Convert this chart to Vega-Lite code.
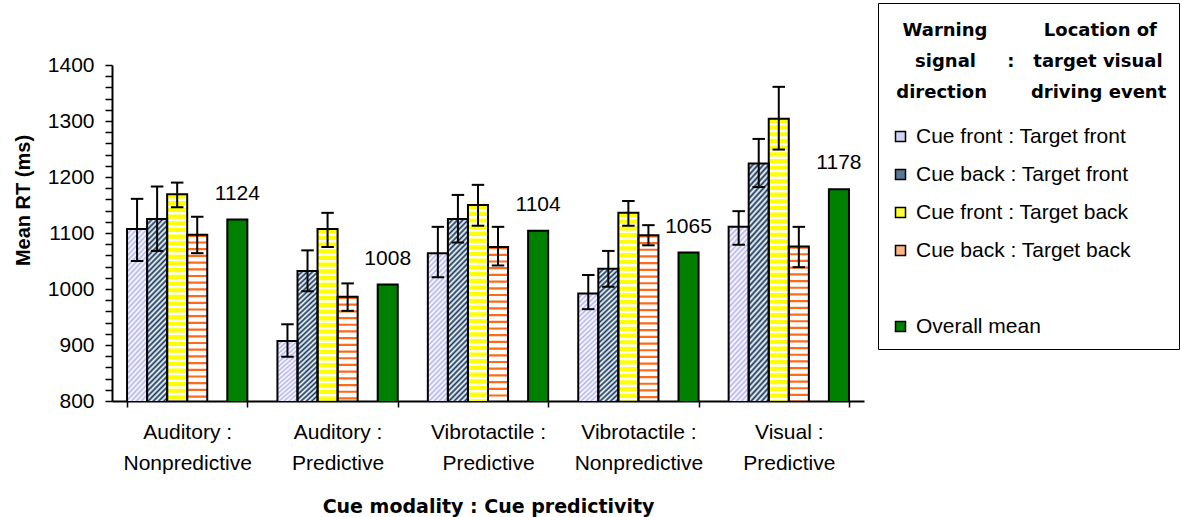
{
"$schema": "https://vega.github.io/schema/vega-lite/v6.json",
"width": 752,
"height": 336,
"autosize": "none",
"padding": {"left": 112, "top": 65, "right": 316, "bottom": 116},
"background": "white",
"config": {"view": {"stroke": null}, "font": "Liberation Sans", "axis": {"labelOverlap": false}, "axisY": {"labelOverlap": false}},
"data": {"values": [
{"modality": "Auditory : Nonpredictive", "condition": "Cue front : Target front", "rt": 1107, "lo": 1050, "hi": 1161},
{"modality": "Auditory : Nonpredictive", "condition": "Cue back : Target front", "rt": 1125, "lo": 1068, "hi": 1183},
{"modality": "Auditory : Nonpredictive", "condition": "Cue front : Target back", "rt": 1169, "lo": 1146, "hi": 1190},
{"modality": "Auditory : Nonpredictive", "condition": "Cue back : Target back", "rt": 1097, "lo": 1064, "hi": 1129},
{"modality": "Auditory : Nonpredictive", "condition": "Overall mean", "rt": 1124},
{"modality": "Auditory : Predictive", "condition": "Cue front : Target front", "rt": 907, "lo": 879, "hi": 937},
{"modality": "Auditory : Predictive", "condition": "Cue back : Target front", "rt": 1032, "lo": 996, "hi": 1069},
{"modality": "Auditory : Predictive", "condition": "Cue front : Target back", "rt": 1107, "lo": 1075, "hi": 1136},
{"modality": "Auditory : Predictive", "condition": "Cue back : Target back", "rt": 986, "lo": 961, "hi": 1010},
{"modality": "Auditory : Predictive", "condition": "Overall mean", "rt": 1008},
{"modality": "Vibrotactile : Predictive", "condition": "Cue front : Target front", "rt": 1064, "lo": 1021, "hi": 1111},
{"modality": "Vibrotactile : Predictive", "condition": "Cue back : Target front", "rt": 1125, "lo": 1083, "hi": 1168},
{"modality": "Vibrotactile : Predictive", "condition": "Cue front : Target back", "rt": 1150, "lo": 1113, "hi": 1186},
{"modality": "Vibrotactile : Predictive", "condition": "Cue back : Target back", "rt": 1075, "lo": 1042, "hi": 1111},
{"modality": "Vibrotactile : Predictive", "condition": "Overall mean", "rt": 1104},
{"modality": "Vibrotactile : Nonpredictive", "condition": "Cue front : Target front", "rt": 992, "lo": 964, "hi": 1025},
{"modality": "Vibrotactile : Nonpredictive", "condition": "Cue back : Target front", "rt": 1036, "lo": 1004, "hi": 1068},
{"modality": "Vibrotactile : Nonpredictive", "condition": "Cue front : Target back", "rt": 1136, "lo": 1113, "hi": 1157},
{"modality": "Vibrotactile : Nonpredictive", "condition": "Cue back : Target back", "rt": 1096, "lo": 1078, "hi": 1114},
{"modality": "Vibrotactile : Nonpredictive", "condition": "Overall mean", "rt": 1065},
{"modality": "Visual : Predictive", "condition": "Cue front : Target front", "rt": 1111, "lo": 1079, "hi": 1139},
{"modality": "Visual : Predictive", "condition": "Cue back : Target front", "rt": 1224, "lo": 1182, "hi": 1268},
{"modality": "Visual : Predictive", "condition": "Cue front : Target back", "rt": 1304, "lo": 1249, "hi": 1361},
{"modality": "Visual : Predictive", "condition": "Cue back : Target back", "rt": 1076, "lo": 1039, "hi": 1111},
{"modality": "Visual : Predictive", "condition": "Overall mean", "rt": 1178}
]},
"encoding": {
  "x": {"field": "modality", "type": "nominal", "sort": null,
    "scale": {"domain": ["Auditory : Nonpredictive", "Auditory : Predictive", "Vibrotactile : Predictive", "Vibrotactile : Nonpredictive", "Visual : Predictive"], "paddingInner": 0.2, "paddingOuter": 0.1},
    "axis": {"title": "Cue modality : Cue predictivity", "titleFont": "DejaVu Sans", "titleFontWeight": "bold", "titleFontSize": 19, "titleColor": "black", "titleBaseline": "alphabetic", "titleY": 111,
      "labelExpr": "datum.label ? [split(datum.label, ' : ')[0] + ' :', split(datum.label, ' : ')[1]] : ''",
      "labelFont": "Liberation Sans", "labelFontSize": 21, "labelLineHeight": 31, "labelColor": "black", "labelPadding": 14, "labelAngle": 0,
      "tickBand": "extent", "tickSize": 6, "tickColor": "black", "tickWidth": 1.5, "domainColor": "black", "domainWidth": 2, "grid": false}},
  "xOffset": {"field": "condition", "type": "nominal", "sort": null,
    "scale": {"domain": ["Cue front : Target front", "Cue back : Target front", "Cue front : Target back", "Cue back : Target back", " ", "Overall mean"], "paddingInner": 0, "paddingOuter": 0}}
},
"layer": [
{
  "transform": [{"filter": "datum.condition === 'Cue front : Target front'"}],
  "mark": {"type": "bar", "clip": true, "strokeWidth": 0, "fill": {"gradient": "linear", "x1": 0, "y1": 0, "x2": 0.0119, "y2": 0.345, "stops": [
{"offset":0,"color":"#b4b4ee"},{"offset":0.0125,"color":"#fff"},{"offset":0.025,"color":"#b4b4ee"},{"offset":0.0375,"color":"#fff"},{"offset":0.05,"color":"#b4b4ee"},{"offset":0.0625,"color":"#fff"},{"offset":0.075,"color":"#b4b4ee"},{"offset":0.0875,"color":"#fff"},
{"offset":0.1,"color":"#b4b4ee"},{"offset":0.1125,"color":"#fff"},{"offset":0.125,"color":"#b4b4ee"},{"offset":0.1375,"color":"#fff"},{"offset":0.15,"color":"#b4b4ee"},{"offset":0.1625,"color":"#fff"},{"offset":0.175,"color":"#b4b4ee"},{"offset":0.1875,"color":"#fff"},
{"offset":0.2,"color":"#b4b4ee"},{"offset":0.2125,"color":"#fff"},{"offset":0.225,"color":"#b4b4ee"},{"offset":0.2375,"color":"#fff"},{"offset":0.25,"color":"#b4b4ee"},{"offset":0.2625,"color":"#fff"},{"offset":0.275,"color":"#b4b4ee"},{"offset":0.2875,"color":"#fff"},
{"offset":0.3,"color":"#b4b4ee"},{"offset":0.3125,"color":"#fff"},{"offset":0.325,"color":"#b4b4ee"},{"offset":0.3375,"color":"#fff"},{"offset":0.35,"color":"#b4b4ee"},{"offset":0.3625,"color":"#fff"},{"offset":0.375,"color":"#b4b4ee"},{"offset":0.3875,"color":"#fff"},
{"offset":0.4,"color":"#b4b4ee"},{"offset":0.4125,"color":"#fff"},{"offset":0.425,"color":"#b4b4ee"},{"offset":0.4375,"color":"#fff"},{"offset":0.45,"color":"#b4b4ee"},{"offset":0.4625,"color":"#fff"},{"offset":0.475,"color":"#b4b4ee"},{"offset":0.4875,"color":"#fff"},
{"offset":0.5,"color":"#b4b4ee"},{"offset":0.5125,"color":"#fff"},{"offset":0.525,"color":"#b4b4ee"},{"offset":0.5375,"color":"#fff"},{"offset":0.55,"color":"#b4b4ee"},{"offset":0.5625,"color":"#fff"},{"offset":0.575,"color":"#b4b4ee"},{"offset":0.5875,"color":"#fff"},
{"offset":0.6,"color":"#b4b4ee"},{"offset":0.6125,"color":"#fff"},{"offset":0.625,"color":"#b4b4ee"},{"offset":0.6375,"color":"#fff"},{"offset":0.65,"color":"#b4b4ee"},{"offset":0.6625,"color":"#fff"},{"offset":0.675,"color":"#b4b4ee"},{"offset":0.6875,"color":"#fff"},
{"offset":0.7,"color":"#b4b4ee"},{"offset":0.7125,"color":"#fff"},{"offset":0.725,"color":"#b4b4ee"},{"offset":0.7375,"color":"#fff"},{"offset":0.75,"color":"#b4b4ee"},{"offset":0.7625,"color":"#fff"},{"offset":0.775,"color":"#b4b4ee"},{"offset":0.7875,"color":"#fff"},
{"offset":0.8,"color":"#b4b4ee"},{"offset":0.8125,"color":"#fff"},{"offset":0.825,"color":"#b4b4ee"},{"offset":0.8375,"color":"#fff"},{"offset":0.85,"color":"#b4b4ee"},{"offset":0.8625,"color":"#fff"},{"offset":0.875,"color":"#b4b4ee"},{"offset":0.8875,"color":"#fff"},
{"offset":0.9,"color":"#b4b4ee"},{"offset":0.9125,"color":"#fff"},{"offset":0.925,"color":"#b4b4ee"},{"offset":0.9375,"color":"#fff"},{"offset":0.95,"color":"#b4b4ee"},{"offset":0.9625,"color":"#fff"},{"offset":0.975,"color":"#b4b4ee"},{"offset":0.9875,"color":"#fff"},
{"offset":1,"color":"#b4b4ee"}]}},
  "encoding": {
    "y": {"field": "rt", "type": "quantitative", "scale": {"domain": [800, 1400], "nice": false, "zero": false}}
  }
},
{
  "transform": [{"filter": "datum.condition === 'Cue back : Target front'"}],
  "mark": {"type": "bar", "clip": true, "strokeWidth": 0, "fill": {"gradient": "linear", "x1": 0, "y1": 0, "x2": 0.0138, "y2": 0.427, "stops": [
{"offset":0,"color":"#12365e"},{"offset":0.01,"color":"#fff"},{"offset":0.02,"color":"#12365e"},{"offset":0.03,"color":"#fff"},{"offset":0.04,"color":"#12365e"},{"offset":0.05,"color":"#fff"},{"offset":0.06,"color":"#12365e"},{"offset":0.07,"color":"#fff"},{"offset":0.08,"color":"#12365e"},{"offset":0.09,"color":"#fff"},
{"offset":0.1,"color":"#12365e"},{"offset":0.11,"color":"#fff"},{"offset":0.12,"color":"#12365e"},{"offset":0.13,"color":"#fff"},{"offset":0.14,"color":"#12365e"},{"offset":0.15,"color":"#fff"},{"offset":0.16,"color":"#12365e"},{"offset":0.17,"color":"#fff"},{"offset":0.18,"color":"#12365e"},{"offset":0.19,"color":"#fff"},
{"offset":0.2,"color":"#12365e"},{"offset":0.21,"color":"#fff"},{"offset":0.22,"color":"#12365e"},{"offset":0.23,"color":"#fff"},{"offset":0.24,"color":"#12365e"},{"offset":0.25,"color":"#fff"},{"offset":0.26,"color":"#12365e"},{"offset":0.27,"color":"#fff"},{"offset":0.28,"color":"#12365e"},{"offset":0.29,"color":"#fff"},
{"offset":0.3,"color":"#12365e"},{"offset":0.31,"color":"#fff"},{"offset":0.32,"color":"#12365e"},{"offset":0.33,"color":"#fff"},{"offset":0.34,"color":"#12365e"},{"offset":0.35,"color":"#fff"},{"offset":0.36,"color":"#12365e"},{"offset":0.37,"color":"#fff"},{"offset":0.38,"color":"#12365e"},{"offset":0.39,"color":"#fff"},
{"offset":0.4,"color":"#12365e"},{"offset":0.41,"color":"#fff"},{"offset":0.42,"color":"#12365e"},{"offset":0.43,"color":"#fff"},{"offset":0.44,"color":"#12365e"},{"offset":0.45,"color":"#fff"},{"offset":0.46,"color":"#12365e"},{"offset":0.47,"color":"#fff"},{"offset":0.48,"color":"#12365e"},{"offset":0.49,"color":"#fff"},
{"offset":0.5,"color":"#12365e"},{"offset":0.51,"color":"#fff"},{"offset":0.52,"color":"#12365e"},{"offset":0.53,"color":"#fff"},{"offset":0.54,"color":"#12365e"},{"offset":0.55,"color":"#fff"},{"offset":0.56,"color":"#12365e"},{"offset":0.57,"color":"#fff"},{"offset":0.58,"color":"#12365e"},{"offset":0.59,"color":"#fff"},
{"offset":0.6,"color":"#12365e"},{"offset":0.61,"color":"#fff"},{"offset":0.62,"color":"#12365e"},{"offset":0.63,"color":"#fff"},{"offset":0.64,"color":"#12365e"},{"offset":0.65,"color":"#fff"},{"offset":0.66,"color":"#12365e"},{"offset":0.67,"color":"#fff"},{"offset":0.68,"color":"#12365e"},{"offset":0.69,"color":"#fff"},
{"offset":0.7,"color":"#12365e"},{"offset":0.71,"color":"#fff"},{"offset":0.72,"color":"#12365e"},{"offset":0.73,"color":"#fff"},{"offset":0.74,"color":"#12365e"},{"offset":0.75,"color":"#fff"},{"offset":0.76,"color":"#12365e"},{"offset":0.77,"color":"#fff"},{"offset":0.78,"color":"#12365e"},{"offset":0.79,"color":"#fff"},
{"offset":0.8,"color":"#12365e"},{"offset":0.81,"color":"#fff"},{"offset":0.82,"color":"#12365e"},{"offset":0.83,"color":"#fff"},{"offset":0.84,"color":"#12365e"},{"offset":0.85,"color":"#fff"},{"offset":0.86,"color":"#12365e"},{"offset":0.87,"color":"#fff"},{"offset":0.88,"color":"#12365e"},{"offset":0.89,"color":"#fff"},
{"offset":0.9,"color":"#12365e"},{"offset":0.91,"color":"#fff"},{"offset":0.92,"color":"#12365e"},{"offset":0.93,"color":"#fff"},{"offset":0.94,"color":"#12365e"},{"offset":0.95,"color":"#fff"},{"offset":0.96,"color":"#12365e"},{"offset":0.97,"color":"#fff"},{"offset":0.98,"color":"#12365e"},{"offset":0.99,"color":"#fff"},
{"offset":1,"color":"#12365e"}]}},
  "encoding": {
    "y": {"field": "rt", "type": "quantitative", "scale": {"domain": [800, 1400], "nice": false, "zero": false}}
  }
},
{
  "transform": [{"filter": "datum.condition === 'Cue front : Target back'"}],
  "mark": {"type": "rule", "clip": true, "stroke": "#ffff00", "strokeWidth": 20, "strokeDash": [4.2, 2.5], "strokeCap": "butt"},
  "encoding": {
    "y": {"field": "rt", "type": "quantitative", "scale": {"domain": [800, 1400], "nice": false, "zero": false}}
  }
},
{
  "transform": [{"filter": "datum.condition === 'Cue back : Target back'"}],
  "mark": {"type": "rule", "clip": true, "stroke": "#ff6a1a", "strokeWidth": 20, "strokeDash": [2.2, 4.5], "strokeCap": "butt"},
  "encoding": {
    "y": {"field": "rt", "type": "quantitative", "scale": {"domain": [800, 1400], "nice": false, "zero": false}}
  }
},
{
  "mark": {"type": "bar", "clip": true, "stroke": "black", "strokeWidth": 2},
  "encoding": {
    "y": {"field": "rt", "type": "quantitative", "scale": {"domain": [800, 1400], "nice": false, "zero": false},
      "axis": {"title": "Mean RT (ms)", "titleFont": "Liberation Sans", "titleFontWeight": "bold", "titleFontSize": 20, "titleColor": "black", "titleX": -79, "titleY": 135,
        "values": [800,820,840,860,880,900,920,940,960,980,1000,1020,1040,1060,1080,1100,1120,1140,1160,1180,1200,1220,1240,1260,1280,1300,1320,1340,1360,1380,1400],
        "tickCount": 100,
        "format": "d", "labelExpr": "datum.value % 100 === 0 ? datum.label : ''",
        "tickSize": 7,
        "encode": {"ticks": {"update": {"x2": {"signal": "datum.value % 100 === 0 ? -7 : -4"}}}},
        "labelFont": "Liberation Sans", "labelFontSize": 21, "labelColor": "black", "labelPadding": 11, "labelOverlap": false,
        "tickColor": "black", "tickWidth": 1.5, "domainColor": "black", "domainWidth": 2, "grid": false}},
    "fill": {"field": "condition", "type": "nominal",
      "scale": {"domain": ["Cue front : Target front", "Cue back : Target front", "Cue front : Target back", "Cue back : Target back", " ", "Overall mean"],
                "range": ["#d2d2f4", "#5a7896", "#ffff33", "#ffb484", "transparent", "#008000"]},
      "legend": {
        "title": ["\u200b\u00a0\u00a0Warning\u00a0\u00a0\u00a0\u00a0\u00a0\u00a0\u00a0\u00a0\u00a0Location of", "\u200b\u00a0\u00a0\u00a0\u00a0signal\u00a0\u00a0\u00a0\u00a0\u00a0:\u00a0\u00a0\u00a0target visual", "\u200b\u00a0direction\u00a0\u00a0\u00a0\u00a0\u00a0\u00a0\u00a0driving event"],
        "orient": "none", "legendX": 766, "legendY": -62,
        "titleFont": "DejaVu Sans", "titleFontWeight": "bold", "titleFontSize": 18, "titleLineHeight": 31, "titleAlign": "left", "titleAnchor": "start", "titleBaseline": "line-top", "titlePadding": 31, "titleColor": "black", "titleLimit": 500,
        "labelFont": "Liberation Sans", "labelFontSize": 21, "labelColor": "black", "labelLimit": 500, "labelOffset": 5,
        "symbolType": "square", "symbolSize": 100, "symbolStrokeWidth": 1.5, "symbolStrokeColor": "black", "symbolOffset": 0,
        "rowPadding": 16, "padding": 12, "strokeColor": "black",
        "encode": {"symbols": {"update": {"strokeOpacity": {"signal": "datum.value === ' ' ? 0 : 1"}}}}
      }},
    "fillOpacity": {"condition": {"test": "datum.condition === 'Overall mean'", "value": 1}, "value": 0}
  }
},
{
  "transform": [{"filter": "datum.condition !== 'Overall mean'"}],
  "mark": {"type": "rule", "color": "black", "strokeWidth": 2},
  "encoding": {
    "y": {"field": "lo", "type": "quantitative", "scale": {"domain": [800, 1400], "nice": false, "zero": false}},
    "y2": {"field": "hi"}
  }
},
{
  "transform": [{"filter": "datum.condition !== 'Overall mean'"}],
  "mark": {"type": "tick", "color": "black", "opacity": 1, "size": 12.5, "thickness": 2},
  "encoding": {
    "y": {"field": "lo", "type": "quantitative", "scale": {"domain": [800, 1400], "nice": false, "zero": false}}
  }
},
{
  "transform": [{"filter": "datum.condition !== 'Overall mean'"}],
  "mark": {"type": "tick", "color": "black", "opacity": 1, "size": 12.5, "thickness": 2},
  "encoding": {
    "y": {"field": "hi", "type": "quantitative", "scale": {"domain": [800, 1400], "nice": false, "zero": false}}
  }
},
{
  "transform": [{"filter": "datum.condition === 'Overall mean'"}],
  "mark": {"type": "text", "dy": -20, "baseline": "alphabetic", "font": "Liberation Sans", "fontSize": 21, "color": "black"},
  "encoding": {
    "y": {"field": "rt", "type": "quantitative", "scale": {"domain": [800, 1400], "nice": false, "zero": false}},
    "text": {"field": "rt", "type": "quantitative", "format": "d"}
  }
}
]
}
